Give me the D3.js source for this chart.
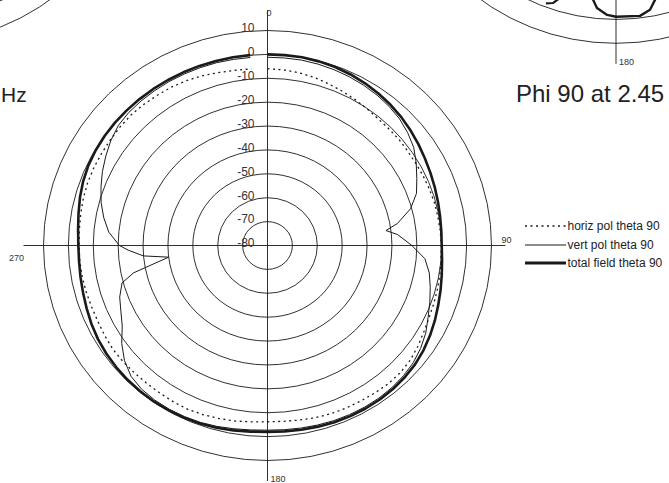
<!DOCTYPE html>
<html><head><meta charset="utf-8">
<script src="https://cdn.jsdelivr.net/npm/d3@7"></script>
<style>html,body{margin:0;padding:0;background:#fff;} svg{display:block;font-family:"Liberation Sans",Arial,sans-serif;}</style>
</head><body><svg id="c" width="669" height="483"></svg>
<script>
// ---- data ----
const ringLevels = [10, 0, -10, -20, -30, -40, -50, -60, -70];
const ringLabels = ["10", "0", "-10", "-20", "-30", "-40", "-50", "-60", "-70", "-80"];
const ringLabelLevels = [10, 0, -10, -20, -30, -40, -50, -60, -70, -80];
const angleLabels = ["0", "90", "180", "270"];

const angles = [0,5,10,15,20,25,30,35,40,45,50,55,60,65,70,75,80,85,90,95,100,105,110,115,120,125,130,135,140,145,150,155,160,165,170,175,180,185,190,195,200,205,210,215,220,225,230,235,240,245,250,255,260,265,270,275,280,285,290,295,300,305,310,315,320,325,330,335,340,345,350,355];

const totalField = [0,0,0,-0.2,-0.5,-1,-1.6,-2.3,-3.1,-4,-5,-6,-7,-7.8,-8.5,-9.1,-9.6,-9.9,-10,-9.6,-8.9,-8,-7,-5.8,-4.6,-3.5,-2.6,-2,-1.6,-1.3,-1.2,-1.2,-1.3,-1.5,-1.7,-1.9,-2,-1.8,-1.4,-1,-0.7,-0.5,-0.4,-0.3,-0.4,-0.5,-0.7,-1,-1.4,-2,-2.7,-3.3,-3.7,-4,-4,-3.6,-2.9,-2,-1.2,-0.6,-0.3,-0.1,0,0,0,0,0,0,0,0,0,0];

const horizPol = [-6,-6.2,-6.6,-7.2,-8,-8.8,-9.5,-10.2,-10.8,-11,-11,-11.2,-11.2,-11,-10.8,-10.6,-10.5,-10.3,-10.2,-10,-9.7,-9.3,-8.9,-8.4,-7.5,-6.3,-5.2,-4.6,-4.5,-4.7,-4.9,-5,-5.1,-5.4,-5.8,-6.1,-6.2,-5.9,-5.4,-5,-4.6,-4.3,-4.4,-4.6,-4.6,-4.5,-4.3,-4.2,-4.5,-4.8,-4.8,-4.6,-4.4,-4.3,-4.3,-4.1,-3.8,-3.4,-3.1,-3,-3,-2.9,-2.7,-2.6,-2.8,-3.1,-3.3,-3.7,-4.3,-5,-5.5,-5.8];

const vertAngles = [0,5,10,15,20,25,30,35,40,45,50,55,60,65,70,75,80,82.5,85,90,95,100,105,110,115,120,125,130,135,140,145,150,155,160,165,170,175,180,185,190,195,200,205,210,215,220,225,230,235,240,245,250,255,258,263,265,268,270,275,280,285,290,295,300,305,310,315,320,325,330,335,340,345,350,355];
const vertPol = [-1.2,-1.2,-1.2,-1.4,-1.7,-2.1,-2.6,-3.2,-4,-5,-6.5,-8.3,-11,-13.8,-16.3,-20.5,-27,-32,-27.5,-22,-16.5,-14,-12.3,-10.6,-8.8,-6.6,-4.9,-3.6,-2.8,-2.3,-2,-1.9,-1.9,-2,-2.2,-2.4,-2.6,-2.7,-2.5,-2.1,-1.6,-1.2,-1,-0.9,-1,-1.4,-2.5,-5,-8.5,-12.6,-15,-16.8,-19.5,-25,-40,-30,-24,-20.5,-16,-13.2,-10.8,-8.8,-6.8,-5,-3.2,-1.8,-1.2,-1,-0.9,-0.8,-0.8,-0.8,-0.8,-0.9,-1];

// partial neighbouring chart (right, Phi 90) total field fragments
const neighborAngles = [192, 187.3, 185.8, 182.6, 180, 173, 169.8, 167.7, 163];
const neighborValues = [-13, -7.6, -4.4, -1.8, -1.1, -0.9, -2.8, -6.5, -12];
const neighborAngles2 = [201, 199.1, 197.6];
const neighborValues2 = [-1.5, -2.6, -5.5];

const legendLabels = ["horiz pol theta 90", "vert pol theta 90", "total field theta 90"];
const titleMain = "Phi 90 at 2.45";
const titleLeftFragment = "Hz";

// ---- drawing ----
const svg = d3.select("#c");
const RX = 224, RY = 215;
const ink = "#1a1a1a";
const rScale = d3.scaleLinear().domain([-80, 10]).range([0, 1]);
const pt = (a, v) => { const r = rScale(v), t = a * Math.PI / 180; return [r * RX * Math.sin(t), -r * RY * Math.cos(t)]; };
const line = d3.line().x(d => d[0]).y(d => d[1]);

function frame(cx, cy) {
  const g = svg.append("g").attr("transform", `translate(${cx},${cy})`);
  g.selectAll("ellipse").data(ringLevels).join("ellipse")
    .attr("rx", d => rScale(d) * RX).attr("ry", d => rScale(d) * RY)
    .attr("fill", "none").attr("stroke", ink).attr("stroke-width", 0.9);
  g.append("line").attr("x1", 0).attr("x2", 0).attr("y1", -235.5).attr("y2", 235.5)
    .attr("stroke", ink).attr("stroke-width", 0.9);
  g.append("line").attr("x1", -244).attr("x2", 238).attr("y1", 0).attr("y2", 0)
    .attr("stroke", ink).attr("stroke-width", 0.9);
  return g;
}

// neighbours
frame(-85, -171.7);
const gr = frame(616, -171.7);
gr.append("path").attr("d", line(neighborAngles.map((a, i) => pt(a, neighborValues[i]))))
  .attr("fill", "none").attr("stroke", ink).attr("stroke-width", 2.4).attr("stroke-linejoin", "round");
gr.append("path").attr("d", line(neighborAngles2.map((a, i) => pt(a, neighborValues2[i]))))
  .attr("fill", "none").attr("stroke", ink).attr("stroke-width", 2.2).attr("stroke-linejoin", "round");
gr.append("text").attr("x", 3).attr("y", 236.5).attr("font-size", 9).attr("fill", "#333").text(angleLabels[2]);

// main chart
const cx = 267.5, cy = 245.5;
const g = frame(cx, cy);

g.selectAll("text.rl").data(ringLabelLevels).join("text").attr("class", "rl")
  .attr("x", -13).attr("y", d => -rScale(d) * RY + 1.8)
  .attr("text-anchor", "end").attr("font-size", 12).attr("fill", "#333")
  .text((d, i) => ringLabels[i]);

g.append("text").attr("x", -1).attr("y", -229.8).attr("font-size", 9).attr("fill", "#333").text(angleLabels[0]);
g.append("text").attr("x", 234).attr("y", -2.5).attr("font-size", 9).attr("fill", "#333").text(angleLabels[1]);
g.append("text").attr("x", 3).attr("y", 236.5).attr("font-size", 9).attr("fill", "#333").text(angleLabels[2]);
g.append("text").attr("x", -258.5).attr("y", 15.5).attr("font-size", 9).attr("fill", "#333").text(angleLabels[3]);

g.append("path").attr("d", line(angles.map((a, i) => pt(a, horizPol[i]))))
  .attr("fill", "none").attr("stroke", ink).attr("stroke-width", 1.3).attr("stroke-dasharray", "2,3.5");
g.append("path").attr("d", line(vertAngles.map((a, i) => pt(a, vertPol[i]))))
  .attr("fill", "none").attr("stroke", ink).attr("stroke-width", 1);
g.append("path").attr("d", line(angles.map((a, i) => pt(a, totalField[i]))))
  .attr("fill", "none").attr("stroke", ink).attr("stroke-width", 2.6).attr("stroke-linejoin", "round");

// legend
const legY = [226, 245, 263];
const legStyles = [
  {w: 1.3, dash: "2,3.5"},
  {w: 1, dash: null},
  {w: 2.8, dash: null}
];
const lg = svg.append("g");
legendLabels.forEach((lab, i) => {
  lg.append("line").attr("x1", 525).attr("x2", 566).attr("y1", legY[i]).attr("y2", legY[i])
    .attr("stroke", ink).attr("stroke-width", legStyles[i].w)
    .attr("stroke-dasharray", legStyles[i].dash);
  lg.append("text").attr("x", 567.5).attr("y", legY[i] + 4.3).attr("font-size", 12).attr("fill", "#222").text(lab);
});

// titles
svg.append("text").attr("x", 516).attr("y", 102).attr("font-size", 24).attr("fill", "#222").text(titleMain);
svg.append("text").attr("x", 1).attr("y", 102).attr("font-size", 21).attr("fill", "#222").text(titleLeftFragment);
</script>
</body></html>
